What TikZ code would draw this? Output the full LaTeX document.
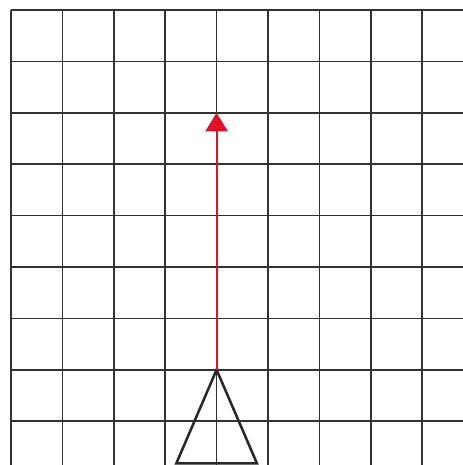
\documentclass[tikz,border=0pt]{standalone}
\usepackage{tikz}
\usetikzlibrary{arrows.meta}
\definecolor{darkgray}{RGB}{50, 50, 50}
\definecolor{arrowred}{RGB}{222, 18, 38}

\begin{document}
\begin{tikzpicture}[
    gridline/.style={draw=darkgray, line width=0.8pt},
    robot/.style={draw=darkgray!80!black, line width=1.4pt, line join=miter},
    heading/.style={draw=arrowred, line width=1.1pt, -{Triangle[width=0.43cm, length=0.36cm]}}
]

    \useasboundingbox (0,0) rectangle (9.008,9.047);

    % grid
    \foreach \k in {0,...,8} {
        \draw [gridline] (0.214+\k,8.852) -- (0.214+\k,0);
        \draw [gridline] (0.214,8.852-\k) -- (9.008,8.852-\k);
    }

    % robot and heading
    \coordinate (apex) at (4.214,1.852);
    \coordinate (goal) at (4.214,6.852);
    \draw [robot] (apex) -- (3.43,0.03) -- (5.0,0.03) -- cycle;
    \draw [heading] (apex) -- (goal);

\end{tikzpicture}
\end{document}
